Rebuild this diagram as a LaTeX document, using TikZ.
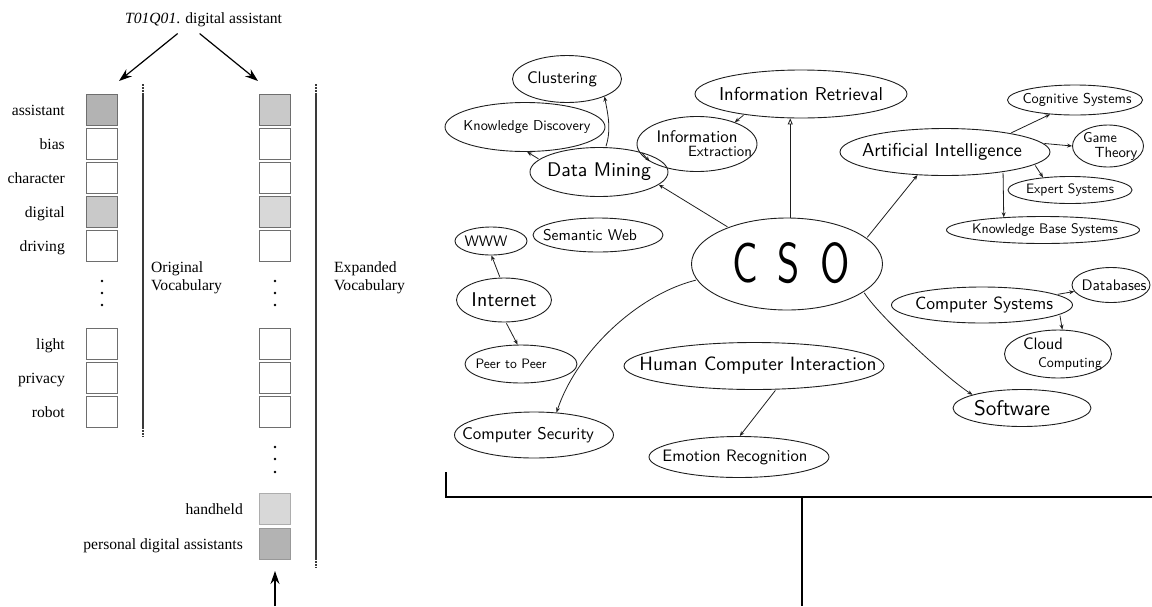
\documentclass[tikz,border=0pt]{standalone}
\usepackage{fontspec}
\setmainfont{Liberation Serif}
\usetikzlibrary{arrows.meta,shapes.geometric}

\definecolor{ink}{HTML}{1E1E1E}
\definecolor{cellline}{HTML}{6E6E6E}
\definecolor{darkcell}{HTML}{B3B3B3}
\definecolor{midcell}{HTML}{C9C9C9}
\definecolor{lightcell}{HTML}{D8D8D8}
\definecolor{rulegray}{HTML}{3A3A3A}

% handwritten-style label: optional horizontal offset, target width, text
\newcommand\hw[3][0pt]{\makebox[0pt]{\hspace{2\dimexpr#1\relax}\resizebox{#2}{!}{#3}}}

\begin{document}
\begin{tikzpicture}[x=1pt,y=-1pt,
  serif15/.style={font=\fontsize{15.6}{18}\selectfont},
  cell/.style={draw=cellline, line width=1pt, minimum size=31pt, inner sep=0pt, fill=white},
  word/.style={serif15, anchor=base east, inner sep=0pt},
  vocab/.style={serif15, anchor=west, align=left, inner sep=0pt},
  bigarrow/.style={-{Stealth[length=13pt,width=9pt]}, line width=1.2pt, black},
  vrule/.style={draw=rulegray, line width=1.3pt},
  vruleend/.style={draw=rulegray, line width=2pt, dash pattern=on 1.6pt off 1.4pt},
  frame/.style={draw=black, line width=1.4pt},
  mm/.style={ellipse, draw=ink, line width=0.9pt, inner sep=0pt,
    font=\sffamily\fontsize{10}{14}\selectfont, align=center},
  mmarrow/.style={draw=ink, line width=0.8pt, -{Stealth[length=5pt,width=4pt]},
    shorten <=1pt},
  openarrow/.style={draw=ink, line width=0.8pt, -{Triangle[open,length=6pt,width=5pt]}},
]
\useasboundingbox (0,0) rectangle (1152,606);

% ---------------- query and the two vocabularies ----------------
\node[serif15, anchor=base west, inner sep=0pt] (query) at (125,23)
  {\textit{T01Q01}. digital assistant};
\coordinate (origtop) at (119,81);
\coordinate (exptop) at (258,81);
\draw[bigarrow] ([xshift=-26pt,yshift=-7pt]query.south) -- (origtop);
\draw[bigarrow] ([xshift=-4pt,yshift=-7pt]query.south) -- (exptop);

% original vocabulary
\node[cell, fill=darkcell] (o1) at (102,110) {};
\node[cell] (o2) at (102,144) {};
\node[cell] (o3) at (102,178) {};
\node[cell, fill=midcell] (o4) at (102,212) {};
\node[cell] (o5) at (102,246) {};
\node[cell] (o6) at (102,344) {};
\node[cell] (o7) at (102,378) {};
\node[cell] (o8) at (102,412) {};
\node[word] (w1) at (65,115) {assistant};
\node[word] (w2) at (65,149) {bias};
\node[word] (w3) at (65,183) {character};
\node[word] (w4) at (65,217) {digital};
\node[word] (w5) at (65,251) {driving};
\node[word] (w6) at (65,349) {light};
\node[word] (w7) at (65,383) {privacy};
\node[word] (w8) at (65,417) {robot};

% expanded vocabulary
\node[cell, fill=midcell] (e1) at (275,110) {};
\node[cell] (e2) at (275,144) {};
\node[cell] (e3) at (275,178) {};
\node[cell, fill=lightcell] (e4) at (275,212) {};
\node[cell] (e5) at (275,246) {};
\node[cell] (e6) at (275,344) {};
\node[cell] (e7) at (275,378) {};
\node[cell] (e8) at (275,412) {};
\node[cell, fill=lightcell, draw=lightcell!80!black] (hh) at (275,509) {};
\node[cell, fill=darkcell, draw=darkcell!85!black] (pda) at (275,544) {};
\node[word] (w9) at (243,514) {handheld};
\node[word] (w10) at (243,549) {personal digital assistants};

\coordinate (feed) at (275,606);
\draw[bigarrow] (feed) -- ([yshift=-11pt]pda.south);

% ellipsis dots
\foreach \y in {281,293,305} {
  \fill[black] (102,\y) circle (1.3pt);
  \fill[black] (275,\y) circle (1.3pt);
}
\foreach \y in {447,459,472} \fill[black] (275,\y) circle (1.3pt);

% vocabulary rules
\draw[vrule] (143,93) -- (143,427);
\draw[vruleend] (143,84) -- (143,93);
\draw[vruleend] (143,427) -- (143,437);
\draw[vrule] (316,93) -- (316,558);
\draw[vruleend] (316,84) -- (316,93);
\draw[vruleend] (316,558) -- (316,568);

\node[vocab] (origlab) at (151,278) {Original\\Vocabulary};
\node[vocab] (explab) at (334,278) {Expanded\\Vocabulary};

% ---------------- CSO topic map ----------------
\node[mm, minimum width=191pt, minimum height=92pt] (cso) at (787,264)
  {\makebox[0pt]{\hspace{8pt}\raisebox{4pt}{\resizebox{117pt}{40pt}{C\hspace{.5em}S\hspace{.5em}O}}}};
\node[mm, minimum width=109pt, minimum height=47pt] (cl) at (567,79) {\hw[-5pt]{70pt}{Clustering}};
\node[mm, minimum width=160pt, minimum height=49pt] (kd) at (525,127) {\hw[2pt]{127pt}{Knowledge Discovery}};
\node[mm, minimum width=138pt, minimum height=49pt] (dm) at (599,172) {\hw{104pt}{Data Mining}};
\node[mm, minimum width=120pt, minimum height=55pt] (ie) at (697,144)
  {\hw{81pt}{Information}\\\hw[23pt]{64pt}{Extraction}};
\node[mm, minimum width=212pt, minimum height=48pt] (ir) at (801,94) {\hw{164pt}{Information Retrieval}};
\node[mm, minimum width=210pt, minimum height=47pt] (ai) at (945,152) {\hw[-3pt]{160pt}{Artificial Intelligence}};
\node[mm, minimum width=135pt, minimum height=30pt] (cog) at (1075,100) {\hw[2pt]{109pt}{Cognitive Systems}};
\node[mm, minimum width=71pt, minimum height=42pt, font=\sffamily\fontsize{10}{15}\selectfont] (gt) at (1108,146)
  {\hw[-8pt]{34pt}{Game}\\\hw[8pt]{43pt}{Theory}};
\node[mm, minimum width=124pt, minimum height=27pt] (es) at (1070,190) {\hw{88pt}{Expert Systems}};
\node[mm, minimum width=193pt, minimum height=27pt] (kbs) at (1043,230) {\hw[2pt]{146pt}{Knowledge Base Systems}};
\node[mm, minimum width=72pt, minimum height=28pt] (www) at (491,241) {\hw[-5pt]{43pt}{WWW}};
\node[mm, minimum width=130pt, minimum height=34pt] (semweb) at (598,235) {\hw[-8pt]{94pt}{Semantic Web}};
\node[mm, minimum width=95pt, minimum height=44pt] (int) at (504,300) {\hw{65pt}{Internet}};
\node[mm, minimum width=112pt, minimum height=38pt] (p2p) at (521,364) {\hw[-10pt]{71pt}{Peer to Peer}};
\node[mm, minimum width=260pt, minimum height=47pt] (hci) at (754,366) {\hw[4pt]{237pt}{Human Computer Interaction}};
\node[mm, minimum width=159pt, minimum height=46pt] (cs) at (534,435) {\hw[-6pt]{132pt}{Computer Security}};
\node[mm, minimum width=180pt, minimum height=41pt] (er) at (739,457) {\hw[-4pt]{145pt}{Emotion Recognition}};
\node[mm, minimum width=138pt, minimum height=37pt] (soft) at (1022,408) {\hw[-10pt]{76pt}{Software}};
\node[mm, minimum width=181pt, minimum height=36pt] (csys) at (982,305) {\hw[2pt]{138pt}{Computer Systems}};
\node[mm, minimum width=78pt, minimum height=35pt] (db) at (1111,285) {\hw[3pt]{65pt}{Databases}};
\node[mm, minimum width=107pt, minimum height=48pt, font=\sffamily\fontsize{10}{18}\selectfont] (cc) at (1058,354)
  {\hw[-15pt]{40pt}{Cloud}\\\hw[12pt]{64pt}{Computing}};

% topic map connectors
\draw[openarrow] (cso.86) -- (cso.86 |- ir.south);
\draw[mmarrow] (cso.148) -- (dm.-12);
\draw[mmarrow] (cso.18) -- (ai.-140);
\draw[mmarrow] (ir.200) -- (ie.30);
\draw[mmarrow] (dm.75) .. controls +(6,-18) and +(3,16) .. (cl.-25);
\draw[mmarrow] (dm.168) -- (kd.-85);
\draw[mmarrow] (dm.25) -- (ie.200);
\draw[mmarrow] (ai.16) -- (cog.-150);
\draw[mmarrow] (ai.5) -- (gt.180);
\draw[mmarrow] (ai.-8) -- (es.155);
\draw[mmarrow] (ai.-19) -- (kbs.162);
\draw[mmarrow] (int.100) -- (www.-88);
\draw[mmarrow] (int.-85) -- (p2p.100);
\draw[mmarrow] (cso.190) .. controls +(-60,15) and +(20,-60) .. (cs.45);
\draw[mmarrow] (cso.-20) .. controls +(15,24) and +(-25,-16) .. (soft.165);
\draw[mmarrow] (hci.-47) -- (er.88);
\draw[mmarrow] (csys.8) -- (db.190);
\draw[mmarrow] (csys.-7) -- (cc.80);

% panel frame
\draw[frame] (446,472) -- (446,497) -- (1152,497);
\draw[frame] (802,497) -- (802,606);
\end{tikzpicture}
\end{document}
